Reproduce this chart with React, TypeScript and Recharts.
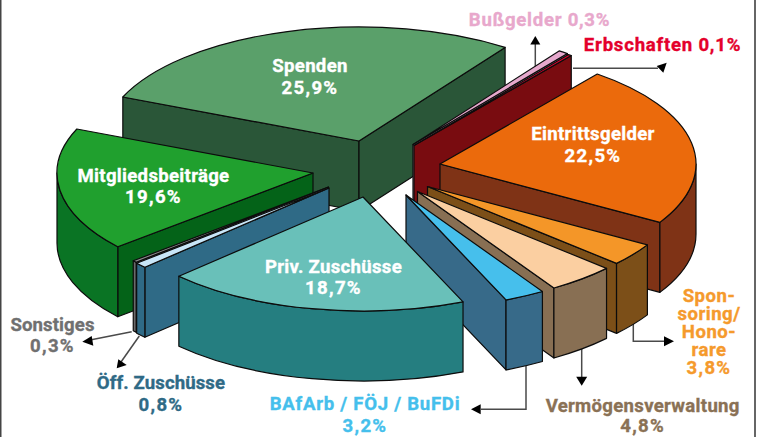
import { Pie, PieChart } from "recharts";

// Printed shares (percent), as labelled in the figure.
const categories = [
  "Spenden",
  "Bußgelder",
  "Erbschaften",
  "Eintrittsgelder",
  "Sponsoring",
  "Vermögensverwaltung",
  "BAfArb",
  "Mitgliedsbeiträge",
  "Sonstiges",
  "Öff. Zuschüsse",
  "Priv. Zuschüsse",
];
const printedShares = [25.9, 0.3, 0.1, 22.5, 3.8, 4.8, 3.2, 19.6, 0.3, 0.8, 18.7];
// Wedge sweep in degrees as drawn: the figure's wedges don't follow the printed shares exactly.
const drawnSweeps = [102.1, 2.3, 0.8, 82.9, 11.6, 15.4, 9.2, 63, 1, 2.7, 69];

const topColors = ["#5aa06a", "#e5a8cc", "#e3002e", "#eb6a0c", "#f49628", "#fbcfa1", "#46bfec", "#20a02e", "#8a8a8a", "#c8e6f8", "#69c0b9"];
const sideColors = ["#2a5638", "#c98fb0", "#790c10", "#7f3316", "#7c4f18", "#886f53", "#376a89", "#046318", "#6a6a6a", "#2f6a86", "#257e80"];
const rimColors = ["#2a5638", "#c98fb0", "#790c10", "#7f3316", "#7c4f18", "#886f53", "#376a89", "#0a7424", "#6a6a6a", "#2f6a86", "#257e80"];
// Explosion of each wedge from the common centre, px.
const explodeX = [-41, 13, 14, 40, 27.5, 17.5, 6, -87, -71.5, -71, -37];
const explodeY = [-29, -25.5, -24.5, -6, 16.5, 21.5, 25, 3, 17, 18, 27];

// Label text per category, same order as above.
const labelLines = [
  ["Spenden", "25,9%"],
  ["Bußgelder 0,3%"],
  ["Erbschaften 0,1%"],
  ["Eintrittsgelder", "22,5%"],
  ["Spon-", "soring/", "Hono-", "rare", "3,8%"],
  ["Vermögensverwaltung", "4,8%"],
  ["BAfArb / FÖJ / BuFDi", "3,2%"],
  ["Mitgliedsbeiträge", "19,6%"],
  ["Sonstiges", "0,3%"],
  ["Öff. Zuschüsse", "0,8%"],
  ["Priv. Zuschüsse", "18,7%"],
];
const labelX = [310, 539.5, 662.5, 593, 709, 642.7, 365, 153.5, 52.5, 161, 333.5];
const labelY = [72, 26, 50.7, 140, 301.7, 411.7, 410, 181.7, 330.7, 389, 272.7];
const labelStep = [22, 0, 0, 22, 18, 20, 21.7, 21, 21, 21.7, 21.5];
const labelSpacing = [0.3, 0.73, 0.77, 0.3, 0.5, 0.3, 0.73, 0.3, 0.1, 0.1, 0.3];
const labelColors = ["#fff", "#e8a8cc", "#e4002b", "#fff", "#f59a2c", "#8a7155", "#45bfec", "#fff", "#707070", "#2f6a86", "#fff"];

const leaderPaths = [
  "M535.3,68V44",
  "M573,68.3H658",
  "M633.3,324V341.3H665",
  "M581.7,349V377",
  "M526,365.7V409.3H481",
  "M131.7,331.7L90,340",
  "M139.3,336L121,362",
];
const arrowHeads = [
  "535.3,36 530.3,44.5 540.3,44.5",
  "666.7,62.7 656.7,66 663.3,72.7",
  "674,341.3 664,336.3 664,346.3",
  "581.7,385.7 576.2,376.7 587.2,376.7",
  "471,409.3 480.7,404.3 480.7,414.3",
  "82.3,341.7 91.7,336 93.3,345.7",
  "116.7,368.3 118.3,359.3 126.7,365",
];

const WIDTH = 761;
const HEIGHT = 437;
const CX = 400;
const CY = 170;
const RX = 256;
const RY = 114;
const DEPTH = 70;
const START_ANGLE = -202.7;

const table = categories.map((name, i) => ({
  name,
  share: printedShares[i],
  sweep: drawnSweeps[i],
  top: topColors[i],
  side: sideColors[i],
  rim: rimColors[i],
  dx: explodeX[i],
  dy: explodeY[i],
}));
// Painted in two runs so nearer wedges overlap farther ones.
const clockwise = table.slice(0, 7);
const counterClockwise = table.slice(7);
const sum = (rows: typeof table) => rows.reduce((s, r) => s + r.sweep, 0);

function Wedge(props: any) {
  const { cx, cy, startAngle, endAngle, payload } = props;
  const { top, side, rim, dx, dy } = payload;
  const ox = cx + dx;
  const oy = cy + dy;
  const hi = Math.max(startAngle, endAngle);
  const lo = Math.min(startAngle, endAngle);
  const pt = (a: number): [number, number] => [
    ox + RX * Math.cos((a * Math.PI) / 180),
    oy - RY * Math.sin((a * Math.PI) / 180),
  ];
  const [sx, sy] = pt(hi);
  const [ex, ey] = pt(lo);
  const large = hi - lo > 180 ? 1 : 0;
  const edge = { stroke: "#0c0c0c", strokeWidth: 1.2, strokeLinejoin: "round" as const };

  // Front half of the rim only: math angles -180..0, plus whole turns.
  const rims: [number, number][] = [];
  for (let k = -2; k <= 1; k++) {
    const a = Math.min(hi, 360 * k);
    const b = Math.max(lo, -180 + 360 * k);
    if (a > b) rims.push([a, b]);
  }
  const wall = (ax: number, ay: number, bx: number, by: number) =>
    `M${ax},${ay}L${bx},${by}L${bx},${by + DEPTH}L${ax},${ay + DEPTH}Z`;

  return (
    <g>
      {sx < ox && <path d={wall(ox, oy, sx, sy)} fill={side} {...edge} />}
      {ox < ex && <path d={wall(ex, ey, ox, oy)} fill={side} {...edge} />}
      {rims.map(([a, b]) => {
        const [ax, ay] = pt(a);
        const [bx, by] = pt(b);
        return (
          <path
            key={a}
            d={`M${ax},${ay}A${RX},${RY} 0 0 1 ${bx},${by}L${bx},${by + DEPTH}A${RX},${RY} 0 0 0 ${ax},${ay + DEPTH}Z`}
            fill={rim}
            {...edge}
          />
        );
      })}
      <path
        d={`M${ox},${oy}L${sx},${sy}A${RX},${RY} 0 ${large} 1 ${ex},${ey}Z`}
        fill={top}
        {...edge}
      />
    </g>
  );
}

// Pie labels paint above every sector, so the white names stay visible.
function SliceLabel(props: any) {
  const i = categories.indexOf(props.payload?.name ?? props.name);
  if (i < 0) return null;
  return (
    <text
      textAnchor="middle"
      fontFamily="Roboto, sans-serif"
      fontWeight={700}
      fontSize={18.6}
      letterSpacing={labelSpacing[i]}
      fill={labelColors[i]}
      stroke={labelColors[i]}
      strokeWidth={0.35}
    >
      {labelLines[i].map((line, j) => (
        // the percent lines run wider than the names in the original
        <tspan
          key={j}
          x={labelX[i]}
          y={labelY[i] + j * labelStep[i]}
          letterSpacing={/^\d/.test(line) ? 1.3 : undefined}
        >
          {line}
        </tspan>
      ))}
    </text>
  );
}

function Annotations() {
  return (
    <g>
      {leaderPaths.map((d) => (
        <path key={d} d={d} fill="none" stroke="#4a4a4a" strokeWidth={1.5} />
      ))}
      {arrowHeads.map((p) => (
        <polygon key={p} points={p} fill="#000" />
      ))}
      <text x={108} y={-6} fontFamily="Roboto, sans-serif" fontWeight={700} fontSize={26} fill="#000">
        g
      </text>
      <rect x={0} y={0} width={1.5} height={HEIGHT} fill="#444" />
      <rect x={754} y={0} width={2} height={HEIGHT} fill="#666" />
    </g>
  );
}

export default function App() {
  return (
    <div style={{ position: "absolute", left: 0, top: 0, width: WIDTH, height: HEIGHT, overflow: "hidden", background: "#fff" }}>
      <PieChart width={WIDTH} height={HEIGHT} margin={{ top: 0, right: 0, bottom: 0, left: 0 }}>
        <Annotations />
        <Pie
          data={clockwise}
          dataKey="sweep"
          nameKey="name"
          cx={CX}
          cy={CY}
          outerRadius={RX}
          startAngle={START_ANGLE}
          endAngle={START_ANGLE - sum(clockwise)}
          stroke="none"
          shape={Wedge}
          label={SliceLabel}
          labelLine={false}
          isAnimationActive={false}
        />
        <Pie
          data={counterClockwise}
          dataKey="sweep"
          nameKey="name"
          cx={CX}
          cy={CY}
          outerRadius={RX}
          startAngle={START_ANGLE}
          endAngle={START_ANGLE + sum(counterClockwise)}
          stroke="none"
          shape={Wedge}
          label={SliceLabel}
          labelLine={false}
          isAnimationActive={false}
        />
      </PieChart>
    </div>
  );
}
